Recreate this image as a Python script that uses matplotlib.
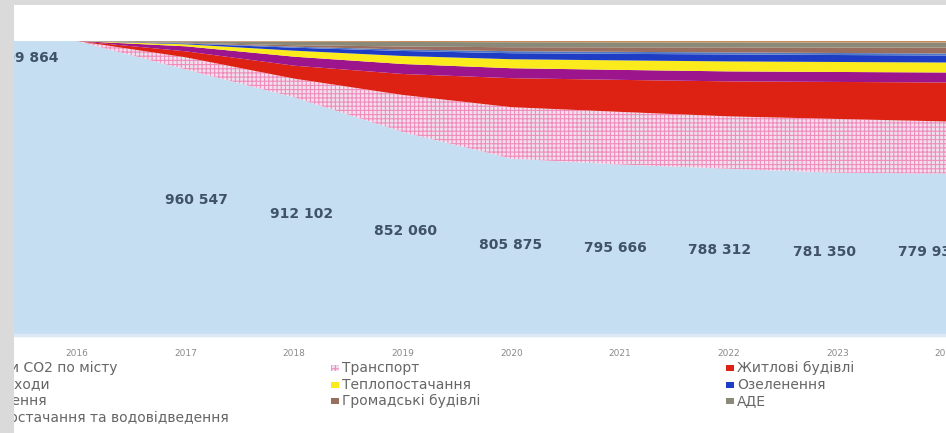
import matplotlib
matplotlib.use("Agg")
import matplotlib.pyplot as plt
from matplotlib.patches import Rectangle

# data, 2015 only keeps the area flat to the left edge
years = [2015, 2016, 2017, 2018, 2019, 2020, 2021, 2022, 2023, 2024]
emissions = [1009864, 1009864, 960547, 912102, 852060, 805875, 795666, 788312, 781350, 779930]
transport = [0, 0, 21017, 32462, 64204, 89189, 91298, 90852, 93314, 90434]
residential = [0, 0, 10400, 22500, 36400, 50300, 55500, 60700, 64200, 67600]
other_measures = [0, 0, 8700, 15600, 17300, 17300, 17300, 17300, 17300, 17300]
heat_supply = [0, 0, 3500, 10400, 13900, 15600, 16500, 17300, 17300, 17300]
greening = [0, 0, 1200, 5200, 8700, 10400, 11300, 12100, 12100, 12100]
lighting = [0, 0, 500, 1700, 2600, 3500, 3500, 3500, 3500, 3500]
public_buildings = [0, 0, 900, 2600, 5200, 6900, 7800, 8700, 9500, 10400]
ade = [0, 0, 2600, 6100, 7800, 8700, 8700, 8700, 8700, 8700]
water = [0, 0, 500, 1200, 1700, 2100, 2300, 2400, 2600, 2600]

labels = ["Викиди CO2 по місту", "Транспорт", "Житлові будівлі",
          "Інші заходи", "Теплопостачання", "Озеленення",
          "Освітлення", "Громадські будівлі", "АДЕ",
          "Водопостачання та водовідведення"]
colors = ["#c6def2", "#f0e0ee", "#dd2213", "#9c158c", "#fbeb1c", "#1f3cc4",
          "#4f78c8", "#9a6e5e", "#8b8a78", "#c98a55"]
hatch_color = "#f08cbc"
tick_years = [2016, 2017, 2018, 2019, 2020, 2021, 2022, 2023, 2024]

W, H = 946, 433
plt.rcParams['font.family'] = ['DejaVu Sans']
plt.rcParams['hatch.linewidth'] = 0.8
fig = plt.figure(figsize=(W / 100, H / 100), dpi=100, facecolor="white")


def px(x, y):
    return x / W, 1 - y / H


# plot area: px 14..946 horizontally, 41..335 vertically
l, t = px(14, 41)
r, b = px(946, 335)
ax = fig.add_axes([l, b, r - l, t - b])
ax.set_facecolor("white")

stacks = ax.stackplot(years, emissions, transport, residential, other_measures,
                      heat_supply, greening, lighting, public_buildings, ade, water,
                      colors=colors, linewidth=0)
stacks[1].set_hatch("++++")
stacks[1].set_edgecolor(hatch_color)
stacks[1].set_linewidth(0)

ymin = 500000
ax.set_xlim(2015.42, 2024.0)
ax.set_ylim(ymin, emissions[0])

ax.set_yticks([])
ax.set_xticks(tick_years)
ax.set_xticklabels([str(y) for y in tick_years], fontsize=6.5, color="#8a8a8a")
ax.tick_params(axis="x", length=0, pad=10)
for s in ["top", "left", "right"]:
    ax.spines[s].set_visible(False)
ax.spines["bottom"].set_color("#dce9f5")
ax.spines["bottom"].set_linewidth(2.5)


def fmt(v):
    return f"{v:,}".replace(",", " ")


# data labels of the emissions area
ax.annotate(fmt(emissions[1]), xy=(years[1], emissions[1]), xytext=(-19, -17),
            textcoords="offset pixels", ha="right", va="center",
            fontsize=10, fontweight="bold", color="#405366", annotation_clip=False)
for i, (yr, v) in enumerate(zip(years[2:], emissions[2:]), start=1):
    ax.annotate(fmt(v), xy=(yr, (ymin + v) / 2), xytext=(15 - 4 * i, 2),
                textcoords="offset pixels", ha="center", va="center",
                fontsize=10, fontweight="bold", color="#405366",
                annotation_clip=False)

# legend, three columns laid out like the original
cols_x = [-47, 331, 726]
rows_y = [368, 385, 401, 418]
layout = [(0, 0), (1, 0), (2, 0), (0, 1), (1, 1), (2, 1), (0, 2), (1, 2), (2, 2), (0, 3)]
for k, (c, rw) in enumerate(layout):
    mx, my = cols_x[c], rows_y[rw]
    x0, y0 = px(mx, my + 3)
    rect = Rectangle((x0, y0), 8 / W, 6 / H, transform=fig.transFigure,
                     facecolor=colors[k], edgecolor="none")
    if k == 1:
        rect.set_hatch("++++")
        rect.set_edgecolor(hatch_color)
        rect.set_linewidth(0)
    fig.add_artist(rect)
    tx, ty = px(mx + 11, my)
    fig.text(tx, ty, labels[k], fontsize=10, color="#666666", va="center", ha="left")

# grey frame of the screenshot on top
for (x, y, w, h) in [(0, 0, 14, H), (0, 0, W, 5)]:
    fx, fy = px(x, y + h)
    fig.add_artist(Rectangle((fx, fy), w / W, h / H, transform=fig.transFigure,
                             facecolor="#dadada", edgecolor="none", zorder=10))

fig.savefig("out.png", dpi=100, facecolor=fig.get_facecolor())
